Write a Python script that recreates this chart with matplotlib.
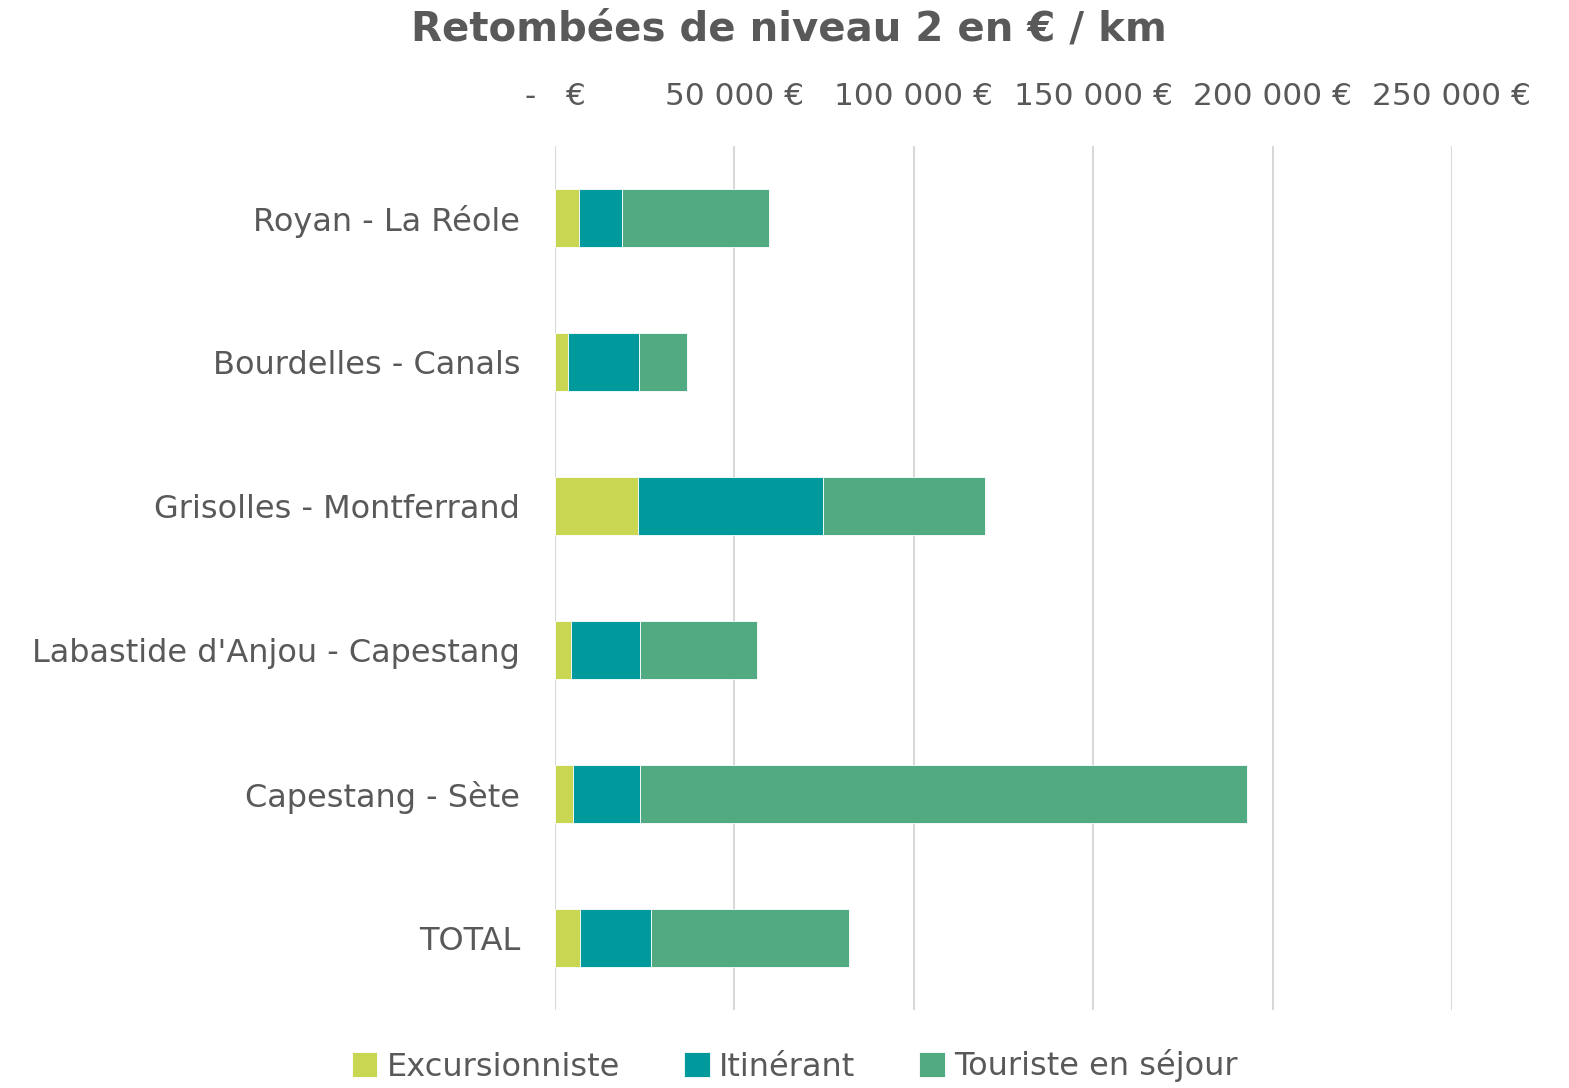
import numpy as np
import matplotlib.pyplot as plt

troncons = ["Royan - La Réole", "Bourdelles - Canals", "Grisolles - Montferrand",
            "Labastide d'Anjou - Capestang", "Capestang - Sète", "TOTAL"]
excursionniste = [6770, 3510, 23210, 4350, 5120, 7040]
itinerant = [11790, 19780, 51350, 19210, 18570, 19590]
touriste = [41150, 13490, 45240, 32780, 169140, 55440]

series = ["Excursionniste", "Itinérant", "Touriste en séjour"]
couleurs = ["#C9D651", "#009A9C", "#51AA82"]
ticks = [0, 50000, 100000, 150000, 200000, 250000]
tick_labels = ["-   €", "50 000 €", "100 000 €", "150 000 €", "200 000 €", "250 000 €"]

gris = "#595959"
plt.rcParams['font.family'] = ['DejaVu Sans']

fig = plt.figure(figsize=(15.69, 10.88), dpi=100)
ax = fig.add_axes([555/1569, 1 - 1010/1088, (1452 - 555)/1569, (1010 - 146)/1088])

y = np.arange(len(troncons))
gauche = np.zeros(len(troncons))
for valeurs, nom, c in zip([excursionniste, itinerant, touriste], series, couleurs):
    ax.barh(y, valeurs, left=gauche, height=0.4, color=c, label=nom,
            edgecolor="white", linewidth=0.6, zorder=3)
    gauche += np.array(valeurs)

ax.set_ylim(len(troncons) - 0.5, -0.5)
ax.set_xlim(0, 250000)
ax.set_yticks(y)
ax.set_yticklabels(troncons, fontsize=23, color=gris)
ax.set_xticks(ticks)
ax.set_xticklabels(tick_labels, fontsize=22.5, color=gris)
ax.xaxis.tick_top()
ax.tick_params(axis='both', length=0)
ax.tick_params(axis='x', pad=25)
ax.tick_params(axis='y', pad=25)
ax.grid(axis='x', color="#D9D9D9", linewidth=1.5, zorder=0)
for s in ax.spines.values():
    s.set_visible(False)

fig.text(789/1569, 1 - 30/1088, "Retombées de niveau 2 en € / km", ha='center', va='center',
         fontsize=29, fontweight='bold', color=gris)

fig.legend(loc='center', bbox_to_anchor=(795/1569, 1 - 1066/1088), ncol=3, frameon=False,
           fontsize=23, handlelength=0.8, handleheight=0.8, handletextpad=0.3,
           columnspacing=2.0, labelcolor=gris)

fig.savefig("out.png", dpi=100)
